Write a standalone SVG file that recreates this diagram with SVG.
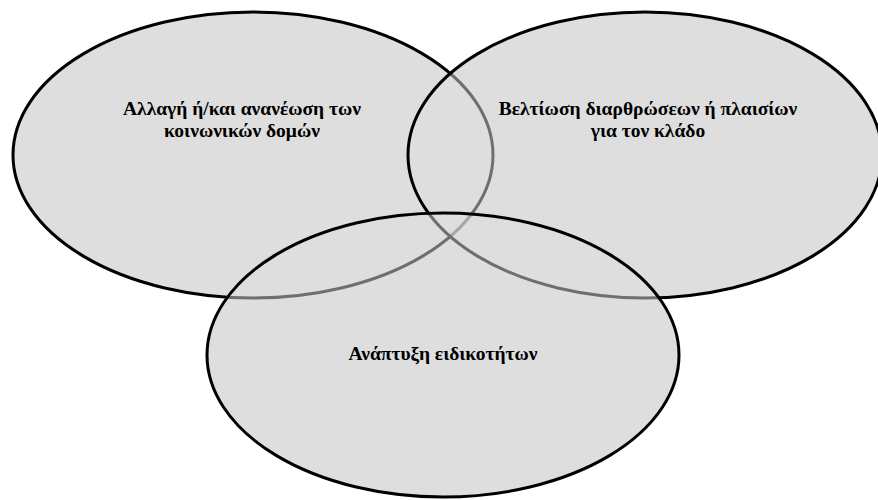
<svg xmlns="http://www.w3.org/2000/svg" width="878" height="500" viewBox="0 0 878 500">
<style>
.base{fill:#dedede;stroke:none}
.ell{fill:#dedede;fill-opacity:0.5;stroke:#000;stroke-width:3}
.lbl{font-family:'Liberation Serif','Times New Roman',serif;font-weight:bold;font-size:19.5px;fill:#000;text-anchor:middle}
</style>
<rect width="878" height="500" fill="#fff"/>
<g id="base">
<ellipse class="base" cx="253" cy="155" rx="240" ry="143"/>
<ellipse class="base" cx="645" cy="155" rx="237" ry="143"/>
<ellipse class="base" cx="443" cy="355" rx="236" ry="142"/>
</g>
<g id="node-left">
<ellipse class="ell" cx="253" cy="155" rx="240" ry="143"/>
</g>
<g id="node-right">
<ellipse class="ell" cx="645" cy="155" rx="237" ry="143"/>
</g>
<g id="node-bottom">
<ellipse class="ell" cx="443" cy="355" rx="236" ry="142"/>
</g>
<g id="labels">
<text class="lbl" x="242" y="115">Αλλαγή ή/και ανανέωση των</text>
<text class="lbl" x="242" y="137">κοινωνικών δομών</text>
<text class="lbl" x="648" y="115">Βελτίωση διαρθρώσεων ή πλαισίων</text>
<text class="lbl" x="648" y="137">για τον κλάδο</text>
<text class="lbl" x="443" y="360">Ανάπτυξη ειδικοτήτων</text>
</g>
<g id="connectors"></g>
</svg>
